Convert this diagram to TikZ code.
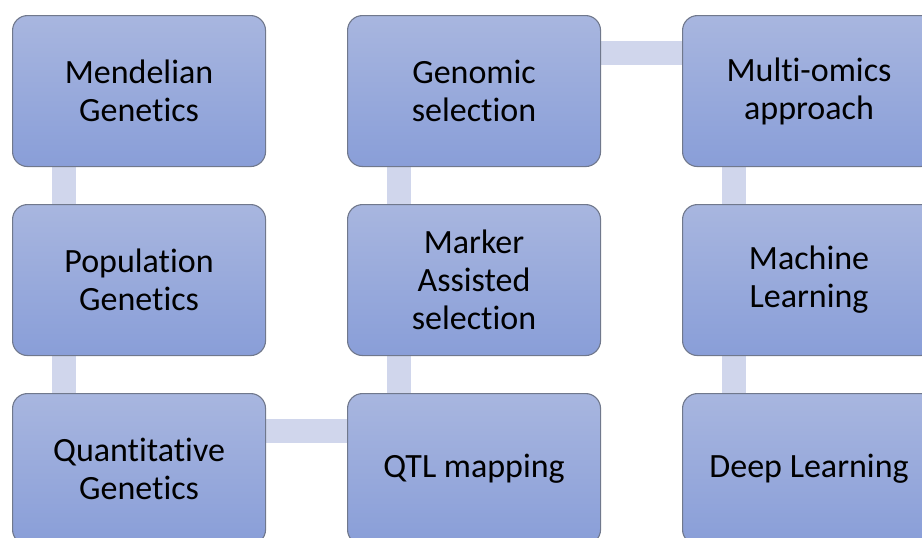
\documentclass[tikz,border=0pt]{standalone}
\usepackage{fontspec}
\setmainfont[Ligatures=NoCommon]{Carlito}
\usetikzlibrary{backgrounds}

\definecolor{boxtop}{RGB}{168,182,223}
\definecolor{boxbot}{RGB}{137,158,216}
\definecolor{boxline}{RGB}{112,120,140}
\definecolor{linkfill}{RGB}{208,214,236}

\tikzset{
  stage/.style={rectangle, rounded corners=15pt, draw=boxline, line width=1.1pt,
    top color=boxtop, bottom color=boxbot, minimum width=253pt, minimum height=151pt,
    anchor=north west, align=center, inner sep=0pt,
    font=\fontsize{34}{38}\selectfont, text=black},
  link/.style={draw=linkfill, line width=24pt, line cap=butt}
}

\begin{document}
\begin{tikzpicture}[x=1pt, y=-1pt]
  \useasboundingbox (0,0) rectangle (922,538);
  \clip (0,0) rectangle (922,538);

  % column 1
  \node[stage] (mend) at (12,15)  {Mendelian\\Genetics};
  \node[stage] (pop)  at (12,204) {Population\\Genetics};
  \node[stage] (quant) at (12,393) {Quantitative\\Genetics};
  % column 2
  \node[stage] (gs)   at (347,15)  {Genomic\\selection};
  \node[stage] (mas)  at (347,204) {Marker\\Assisted\\selection};
  \node[stage] (qtl)  at (347,393) {QTL mapping};
  % column 3
  \node[stage] (omics) at (682,15)  {Multi-omics\\approach};
  \node[stage] (ml)    at (682,204) {Machine\\Learning};
  \node[stage] (dl)    at (682,393) {Deep Learning};

  \begin{pgfonlayer}{background}
    % vertical links, 52pt in from each box's left edge
    \draw[link] ([xshift=52pt]mend.south west) -- ([xshift=52pt]pop.north west);
    \draw[link] ([xshift=52pt]pop.south west) -- ([xshift=52pt]quant.north west);
    \draw[link] ([xshift=52pt]gs.south west) -- ([xshift=52pt]mas.north west);
    \draw[link] ([xshift=52pt]mas.south west) -- ([xshift=52pt]qtl.north west);
    \draw[link] ([xshift=52pt]omics.south west) -- ([xshift=52pt]ml.north west);
    \draw[link] ([xshift=52pt]ml.south west) -- ([xshift=52pt]dl.north west);
    % horizontal links, 37.5pt below each box's top edge
    \draw[link] ([yshift=-37.5pt]quant.north east) -- ([yshift=-37.5pt]qtl.north west);
    \draw[link] ([yshift=-37.5pt]gs.north east) -- ([yshift=-37.5pt]omics.north west);
  \end{pgfonlayer}
\end{tikzpicture}
\end{document}
